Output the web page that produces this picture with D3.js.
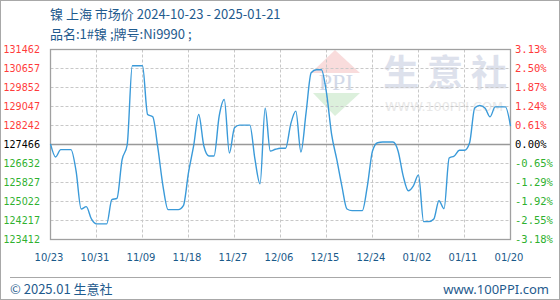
<!DOCTYPE html>
<html><head><meta charset="utf-8">
<script src="https://cdn.jsdelivr.net/npm/d3@7"></script>
<style>
html,body{margin:0;padding:0;background:#fff;}
svg{display:block;}
</style></head>
<body>
<svg id="chart" width="560" height="300"></svg>
<script>
const titleText = "镍 上海 市场价 2024-10-23 - 2025-01-21";
const subtitleText = "品名:1#镍 ;牌号:Ni9990 ;";
const startDate = "2024-10-23";
const endDate = "2025-01-21";
const prices = [
 127466,126910,127218,127218,127218,126320,124706,124803,124284,124074,
 124074,124074,125098,125153,126784,127416,130775,130775,130775,128710,
 128609,127302,125688,124676,124676,124676,124845,126249,127374,128710,
 127374,126952,126952,128638,129342,127079,128145,128259,128259,128259,
 126813,125772,128975,127163,127235,127277,127277,128301,128849,127120,
 128777,130480,130606,130606,129620,127867,126813,125688,124706,124634,
 124634,124634,125688,127163,127513,127542,127542,127542,127163,126109,
 125477,125688,126152,124171,124171,124284,125056,124719,126868,126952,
 127193,127193,127513,128988,129089,128988,128609,129030,129030,129030,
 128217
];
const leftTicks = [131462,130657,129852,129047,128242,127466,126632,125827,125022,124217,123412];
const rightTicks = ["3.13%","2.50%","1.87%","1.24%","0.61%","0.00%","-0.65%","-1.29%","-1.92%","-2.55%","-3.18%"];
const xLabels = ["10/23","10/31","11/09","11/18","11/27","12/06","12/15","12/24","01/02","01/11","01/20"];
const basePrice = 127466;

const svg = d3.select("#chart");
const L = 50.5, R = 510.5, T = 49.5, B = 239.5;
const parse = d3.utcParse("%Y-%m-%d");
const d0 = parse(startDate), d1 = parse(endDate);
const data = prices.map((v,i)=>({date:d3.utcDay.offset(d0,i), v}));

const x = d3.scaleUtc().domain([d0,d1]).range([L,R]);
const y = d3.scaleLinear().domain([d3.min(leftTicks), d3.max(leftTicks)]).range([B,T]);
const gridY = d3.scalePoint().domain(leftTicks).range([T,B]);
const xLab = d3.scalePoint().domain(xLabels).range([L,R]);

// outer border
svg.append("rect").attr("x",0.5).attr("y",0.5).attr("width",559).attr("height",299)
  .attr("fill","none").attr("stroke","#a8a8a8");

// titles
svg.append("text").attr("x",50).attr("y",18.5).text(titleText)
  .attr("font-family","'Noto Sans CJK SC','Noto Sans',sans-serif").attr("font-size",13).attr("fill","#1f5b8e");
svg.append("text").attr("x",50).attr("y",39).text(subtitleText)
  .attr("font-family","'Noto Sans CJK SC','Noto Sans',sans-serif").attr("font-size",13).attr("fill","#1f5b8e");

// watermark
const wm = svg.append("g");
wm.append("path").attr("d","M311,73 L335,50 L360,73 Z").attr("fill","#f9dcdc");
wm.append("path").attr("d","M313,93 L360,93 L335,116 Z").attr("fill","#dcf0dc");
wm.append("text").attr("x",336).attr("y",90).attr("text-anchor","middle").text("PPI")
  .attr("font-family","'Liberation Serif',serif").attr("font-size",24).attr("fill","#d2d9e8");
["生","意","社"].forEach((c,i)=>{
  wm.append("text").attr("x",401+i*44).attr("y",86).attr("text-anchor","middle").text(c)
    .attr("font-family","'Noto Sans CJK SC',sans-serif").attr("font-weight","bold")
    .attr("font-size",36).attr("fill","#dde1ec");
});
wm.append("text").attr("x",385).attr("y",111).text("WWW.100PPI.COM")
  .attr("textLength",118).attr("lengthAdjust","spacingAndGlyphs")
  .attr("font-family","'DejaVu Sans',sans-serif").attr("font-size",13).attr("fill","#e8e8e8");

// grid
const grid = svg.append("g").attr("stroke","#c8c8c8").attr("stroke-dasharray","3,2").attr("stroke-width",1);
leftTicks.forEach(t=>{
  if (t===basePrice) return;
  grid.append("line").attr("x1",L).attr("x2",R).attr("y1",gridY(t)).attr("y2",gridY(t));
});
xLabels.forEach((lab,i)=>{
  if (i===0 || i===xLabels.length-1) return;
  grid.append("line").attr("x1",xLab(lab)).attr("x2",xLab(lab)).attr("y1",T).attr("y2",B);
});

// zero line
svg.append("line").attr("x1",L).attr("x2",R).attr("y1",gridY(basePrice)).attr("y2",gridY(basePrice))
  .attr("stroke","#999").attr("stroke-width",1.3);

// plot border
svg.append("rect").attr("x",L).attr("y",T).attr("width",R-L).attr("height",B-T)
  .attr("fill","none").attr("stroke","#a0a0a0").attr("stroke-width",1.3);

// line
const line = d3.line().x(d=>x(d.date)).y(d=>y(d.v)).curve(d3.curveMonotoneX);
svg.append("path").datum(data).attr("d",line).attr("fill","none")
  .attr("stroke","#3a9ad9").attr("stroke-width",1.4);

// left axis labels
leftTicks.forEach(t=>{
  svg.append("text").attr("x",40).attr("y",gridY(t)).attr("dy","0.35em").attr("text-anchor","end")
    .text(t).attr("font-family","'DejaVu Sans',sans-serif").attr("font-size",9.6)
    .attr("fill", t>basePrice?"#ff3b3b":(t<basePrice?"#2fb12f":"#000"));
});
// right axis labels
rightTicks.forEach((t,i)=>{
  const v = leftTicks[i];
  svg.append("text").attr("x",515).attr("y",gridY(v)).attr("dy","0.35em")
    .text(t).attr("font-family","'DejaVu Sans Mono',monospace").attr("font-size",10.5)
    .attr("fill", v>basePrice?"#ff3b3b":(v<basePrice?"#2fb12f":"#000"));
});
// x labels
xLabels.forEach(lab=>{
  svg.append("text").attr("x",xLab(lab)-1.5).attr("y",261).attr("text-anchor","middle")
    .text(lab).attr("font-family","'DejaVu Sans',sans-serif").attr("font-size",10)
    .attr("fill","#1a5a8a");
});

// footer
svg.append("line").attr("x1",10).attr("x2",551).attr("y1",277.5).attr("y2",277.5)
  .attr("stroke","#a8a8a8").attr("stroke-width",1.2);
svg.append("text").attr("x",10).attr("y",294).text("© 2025.01 生意社")
  .attr("font-family","'Noto Sans CJK SC',sans-serif").attr("font-size",13).attr("fill","#1f5b8e");
svg.append("text").attr("x",549).attr("y",294).attr("text-anchor","end").text("www.100PPI.com")
  .attr("font-family","'Noto Sans','Noto Sans CJK SC',sans-serif").attr("font-size",13).attr("fill","#1f5b8e");
</script>
</body></html>
